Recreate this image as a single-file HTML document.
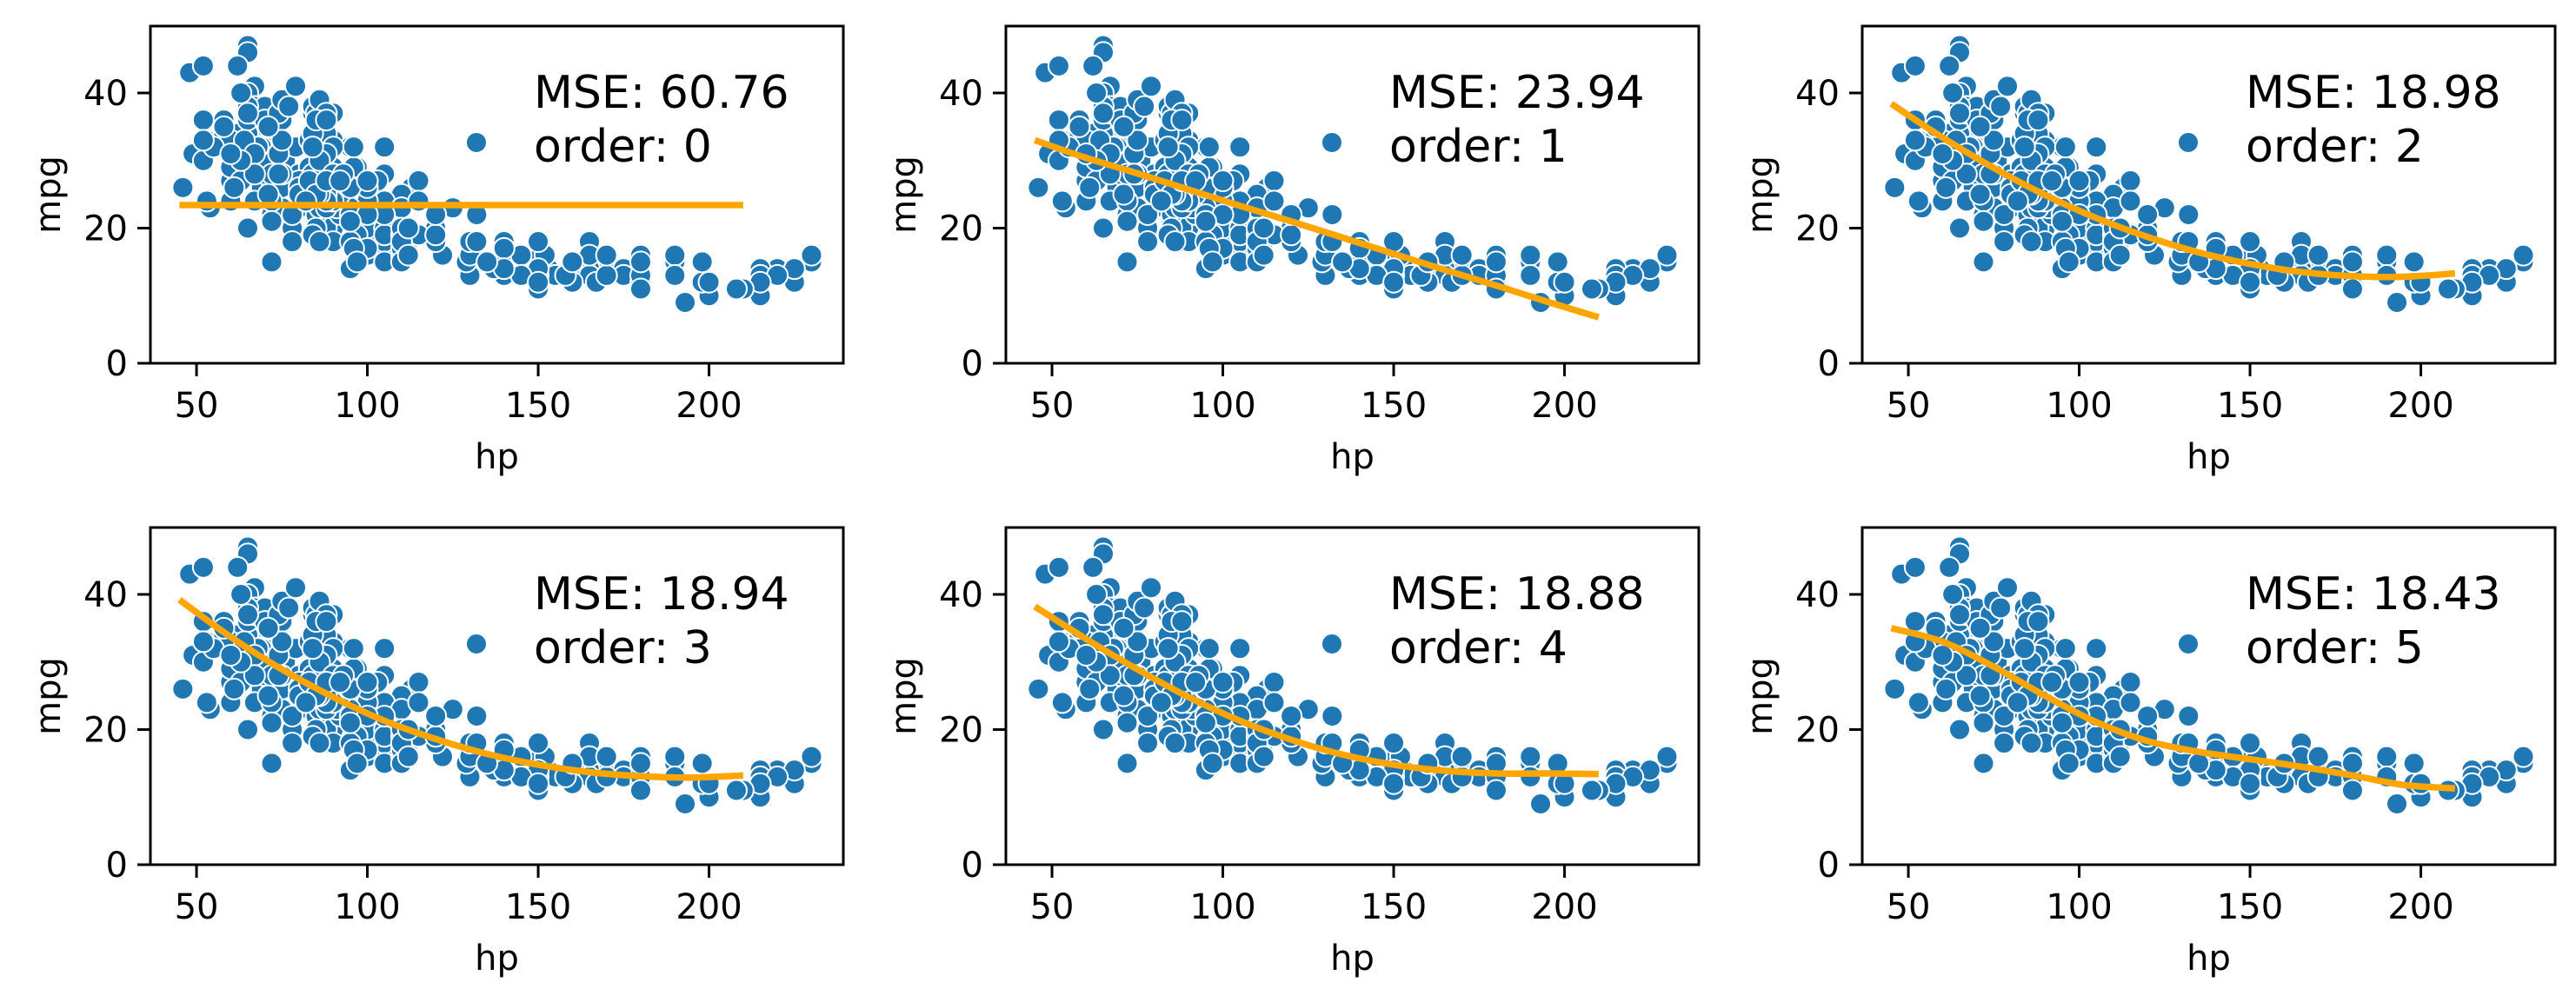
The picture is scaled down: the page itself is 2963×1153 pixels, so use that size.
<!DOCTYPE html>
<html><head><meta charset="utf-8"><style>
html,body{margin:0;padding:0;background:#fff;}
svg{display:block;font-family:"DejaVu Sans","Liberation Sans",sans-serif;}
</style></head><body>
<svg id="chart" width="2963" height="1153" viewBox="0 0 2963 1153"></svg>
<script>
const hp = [
130,165,150,150,140,198,220,215,225,190,
170,160,150,225,95,95,97,85,88,46,
87,90,95,113,90,215,200,210,193,88,
90,95,100,105,100,88,100,165,175,153,
150,180,170,175,110,72,100,88,86,90,
70,76,65,69,60,70,95,80,54,90,
86,165,175,150,153,150,208,155,160,190,
97,150,130,140,150,112,76,87,69,86,
92,97,80,88,175,150,145,137,150,198,
150,158,150,215,225,175,105,100,100,88,
95,46,150,167,170,180,100,88,72,94,
90,85,107,90,230,49,75,91,112,150,
110,122,180,95,100,100,67,80,65,75,
100,110,105,140,
83,67,78,97,110,110,129,145,130,150,
110,95,110,88,70,53,86,81,92,79,
83,140,150,120,152,100,105,81,90,52,
60,70,53,100,78,110,95,72,90,110,
67,60,85,145,130,110,120,150,140,180,
145,165,190,115,91,132,75,83,67,110,
105,85,92,70,68,58,70,80,110,82,
83,120,110,108,140,150,180,93,69,75,
69,105,110,86,72,90,95,70,65,48,
48,67,65,65,75,58,65,74,70,68,
80,72,85,88,84,97,105,90,103,125,
115,120,88,84,92,52,71,74,75,84,
65,67,88,84,85,88,65,62,52,84,
90,84,85,62,80,63,65,74,90,88,
75,70,67,58,90,72,90,110,132,115,
84,90,105,110,90,115,70,60,70,68,
65,88,84,63,84,85,55,86,88,70,
86,64,74,71,96,74,100,105,88,85,
52,67,75,88,71,95,100,67,95,86,
83,84,61,96,90,79,77,84,63,58,
95,72,100,85,93,82,60,65,52,88,
92,88,96,110,112,84,72,78,86,97,
110,112,180,145,140,150,165,160,135,170,
230,215,225,220,215,210,208,200,198,190
];
const mpg = [
18,15,18,16,17,15,14,14,14,15,
15,14,15,14,24,22,18,21,27,26,
25,24,25,26,21,10,10,11,9,27,
28,25,19,16,17,19,18,14,14,14,
14,12,13,13,18,22,19,18,23,28,
30,30,31,35,27,26,24,25,23,20,
21,13,14,15,14,17,11,13,12,13,
19,15,13,13,14,18,22,21,26,22,
28,23,28,27,13,14,13,14,15,12,
13,13,14,13,12,13,18,16,18,18,
23,26,11,12,13,12,18,20,21,22,
18,19,21,26,15,31,32,25,16,16,
18,16,13,14,20,20,29,23,20,23,
24,25,24,18,
29,24,20,19,18,15,15,16,16,16,
19,18,18,24,32,33,26,24,22,32,
24,17,16,18,16,17,15,27,26,30,
29,28,24,24,22,20,23,29,26,19,
29,24,26,16,18,16,20,14,16,16,
16,18,16,19,23,18,26,33,32,17,
20,22,25,31,36,36,32,27,23,24,
25,19,18,20,17,18,15,27,30,28,
32,19,19,23,36,33,32,30,39,43,
43,41,40,47,37,36,37,38,35,32,
26,24,20,23,26,29,28,37,27,23,
24,22,32,34,28,44,38,31,36,37,
34,38,26,28,33,34,46,44,44,26,
27,32,27,34,25,27,36,31,27,26,
33,36,37,34,32,28,29,23,22,27,
32,28,22,20,24,24,38,33,36,32,
38,25,38,40,34,37,32,39,31,36,
30,33,37,25,29,28,26,32,37,36,
36,31,39,24,35,22,22,28,26,25,
27,32,26,32,28,41,38,32,30,35,
21,21,27,25,28,24,31,37,33,27,
27,36,17,18,20,19,15,18,18,15,
15,16,11,13,14,12,16,15,15,16,
16,13,14,13,12,11,11,12,15,13
];
const fitX = [45,60,75,90,105,120,135,150,165,180,195,210];
const fit0 = [23.4,23.4,23.4,23.4,23.4,23.4,23.4,23.4,23.4,23.4,23.4,23.4];
const fit1 = [33.0,30.4,28.1,25.7,23.3,21.0,18.6,16.2,13.8,11.5,9.1,6.8];
const fit2 = [38.4,33.4,28.9,24.9,21.5,18.7,16.4,14.7,13.5,12.9,12.8,13.3];
const fit3 = [39.2,33.7,28.9,24.8,21.3,18.6,16.4,14.8,13.7,13.1,12.9,13.2];
const fit4 = [38.2,33.4,28.9,24.8,21.3,18.5,16.3,14.8,13.9,13.5,13.5,13.4];
const fit5 = [35.0,33.0,29.3,25.0,21.1,18.3,16.7,15.6,14.5,13.2,11.8,11.3];
const fits = [fit0,fit1,fit2,fit3,fit4,fit5];
const mseLabels = ["60.76","23.94","18.98","18.94","18.88","18.43"];
const xTicks = [50,100,150,200];
const yTicks = [0,20,40];

const NS = "http://www.w3.org/2000/svg";
const svg = document.getElementById("chart");
const LEFTS = [173,1157,2142], TOPS = [30,607], W = 797, H = 388;
const XMIN = 36.5, XMAX = 239.3, YMIN = 0, YMAX = 49.9;
function mk(tag, attrs, parent){const e=document.createElementNS(NS,tag);for(const k in attrs)e.setAttribute(k,attrs[k]);(parent||svg).appendChild(e);return e;}

for (let p = 0; p < 6; p++) {
  const L = LEFTS[p%3], T = TOPS[Math.floor(p/3)];
  const sx = v => L + (v - XMIN) / (XMAX - XMIN) * W;
  const sy = v => T + H - (v - YMIN) / (YMAX - YMIN) * H;
  const g = mk("g", {});
  
  
  const pg = mk("g", {}, g);
  
  
  for (let i = 0; i < hp.length; i++) {
    const c = mk("circle", {cx: sx(hp[i]), cy: sy(mpg[i]), r: 12, fill: "#1f77b4", stroke: "#fff", "stroke-width": 2}, pg);
    
    
  }
  const ys = fits[p];
  const pts = fitX.map((x, i) => [sx(x), sy(ys[i])]);
  let d = "M" + pts[0][0] + "," + pts[0][1];
  for (let i = 0; i < pts.length - 1; i++) {
    const p0 = pts[Math.max(0,i-1)], p1 = pts[i], p2 = pts[i+1], p3 = pts[Math.min(pts.length-1,i+2)];
    const c1 = [p1[0]+(p2[0]-p0[0])/6, p1[1]+(p2[1]-p0[1])/6];
    const c2 = [p2[0]-(p3[0]-p1[0])/6, p2[1]-(p3[1]-p1[1])/6];
    d += " C" + c1 + " " + c2 + " " + p2;
  }
  const line = mk("path", {d: d, fill: "none", stroke: "#ffa500", "stroke-width": 7.5}, g);
  
  
  const fr = mk("rect", {x: L, y: T, width: W, height: H, fill: "none", stroke: "#000", "stroke-width": 3}, g);
  
  
  xTicks.forEach(v => {
    const x = sx(v);
    mk("line", {x1: x, x2: x, y1: T+H, y2: T+H+15, stroke: "#000", "stroke-width": 3}, g);
    const t = mk("text", {x: x, y: T+H+62, "font-size": 40, "text-anchor": "middle"}, g);
    t.textContent = v;
    
    
  });
  yTicks.forEach(v => {
    const y = sy(v);
    mk("line", {x1: L-15, x2: L, y1: y, y2: y, stroke: "#000", "stroke-width": 3}, g);
    const t = mk("text", {x: L-26, y: y+14, "font-size": 40, "text-anchor": "end"}, g);
    t.textContent = v;
    
    
  });
  const xl = mk("text", {x: L+W/2, y: T+H+121, "font-size": 40, "text-anchor": "middle"}, g);
  xl.textContent = "hp";
  
  
  const yl = mk("text", {x: 0, y: 0, "font-size": 40, "text-anchor": "middle", transform: "translate(" + (L-104) + "," + (T+H/2) + ") rotate(-90)"}, g);
  yl.textContent = "mpg";
  
  
  const lg = mk("g", {}, g);
  
  
  mk("circle", {cx: L+375, cy: T+134, r: 12, fill: "#1f77b4", stroke: "#fff", "stroke-width": 2}, lg);
  const t1 = mk("text", {x: L+441, y: T+94, "font-size": 52}, lg);
  t1.textContent = "MSE: " + mseLabels[p];
  
  
  const t2 = mk("text", {x: L+441, y: T+156, "font-size": 52}, lg);
  t2.textContent = "order: " + p;
  
  
}
</script>
</body></html>
